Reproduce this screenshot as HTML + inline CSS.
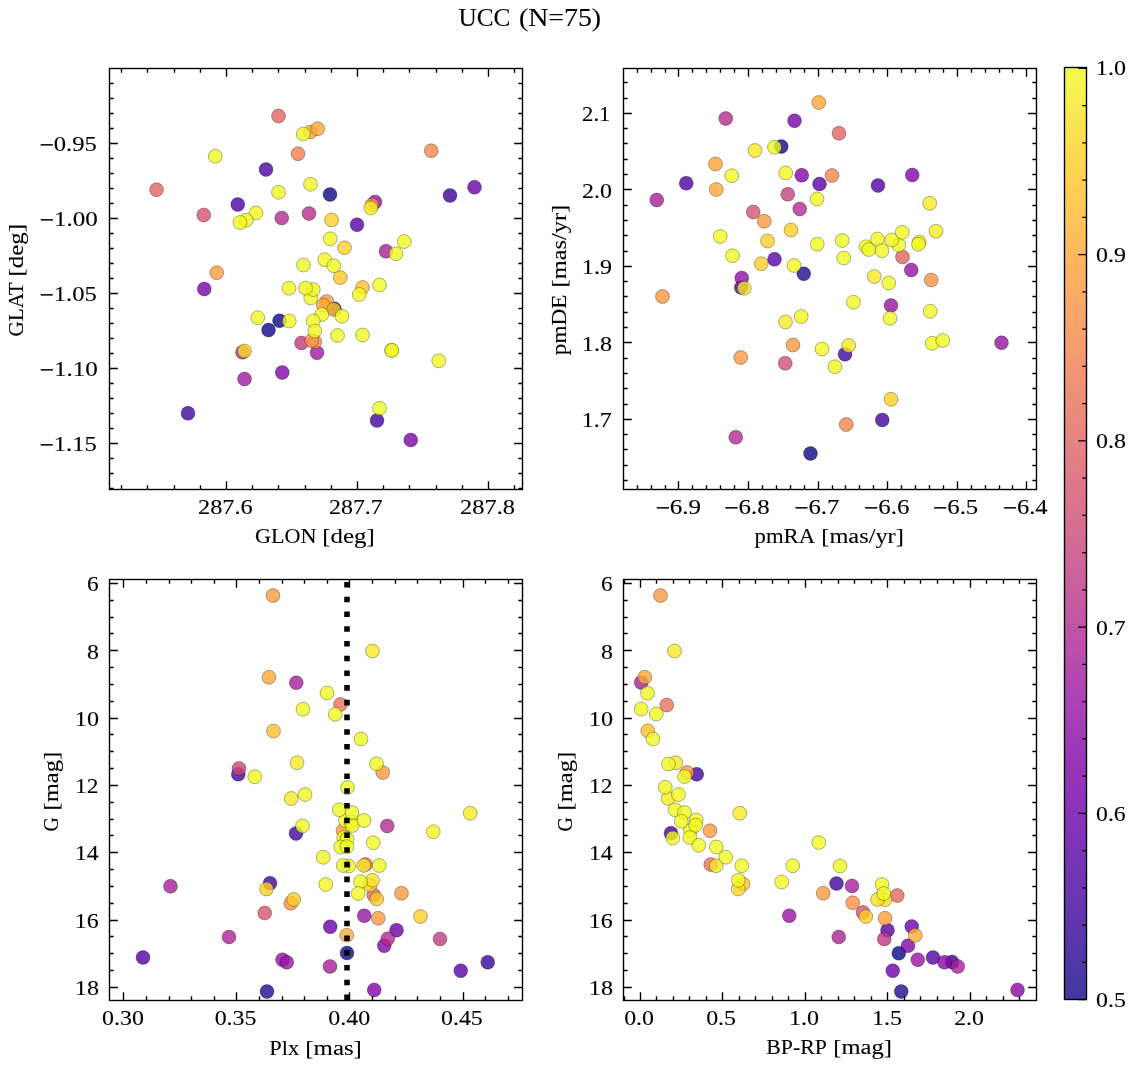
<!DOCTYPE html>
<html lang="en"><head><meta charset="utf-8"><title>UCC (N=75)</title>
<style>html,body{margin:0;padding:0;background:#fff}svg{display:block}text{font-family:"Liberation Serif",serif;fill:#000}</style></head><body>
<svg width="1136" height="1067" viewBox="0 0 1136 1067">
<rect width="1136" height="1067" fill="#fff"/>
<defs><linearGradient id="cbg" x1="0" y1="0" x2="0" y2="1"><stop offset="0%" stop-color="#f3fa4e"/><stop offset="2.5%" stop-color="#f6f252"/><stop offset="5%" stop-color="#f9e951"/><stop offset="7.5%" stop-color="#fbe050"/><stop offset="10%" stop-color="#fdd851"/><stop offset="12.5%" stop-color="#fed053"/><stop offset="15%" stop-color="#fec856"/><stop offset="17.5%" stop-color="#fec05a"/><stop offset="20%" stop-color="#fdb85e"/><stop offset="22.5%" stop-color="#fbb162"/><stop offset="25%" stop-color="#faaa66"/><stop offset="27.5%" stop-color="#f7a36b"/><stop offset="30%" stop-color="#f59d6f"/><stop offset="32.5%" stop-color="#f19574"/><stop offset="35%" stop-color="#ee9078"/><stop offset="37.5%" stop-color="#eb8a7c"/><stop offset="40%" stop-color="#e78381"/><stop offset="42.5%" stop-color="#e37d85"/><stop offset="45%" stop-color="#de778a"/><stop offset="47.5%" stop-color="#da728e"/><stop offset="50%" stop-color="#d66c93"/><stop offset="52.5%" stop-color="#d06698"/><stop offset="55%" stop-color="#cc609c"/><stop offset="57.5%" stop-color="#c65aa2"/><stop offset="60%" stop-color="#c055a6"/><stop offset="62.5%" stop-color="#bb4faa"/><stop offset="65%" stop-color="#b449af"/><stop offset="67.5%" stop-color="#ad44b3"/><stop offset="70%" stop-color="#a63eb6"/><stop offset="72.5%" stop-color="#9f39b8"/><stop offset="75%" stop-color="#9835b9"/><stop offset="77.5%" stop-color="#9034ba"/><stop offset="80%" stop-color="#8833b9"/><stop offset="82.5%" stop-color="#7f33b8"/><stop offset="85%" stop-color="#7834b6"/><stop offset="87.5%" stop-color="#7035b4"/><stop offset="90%" stop-color="#6736b1"/><stop offset="92.5%" stop-color="#5f36ad"/><stop offset="95%" stop-color="#5437a9"/><stop offset="97.5%" stop-color="#4a38a4"/><stop offset="100%" stop-color="#3d399f"/></linearGradient>
<clipPath id="cp1"><rect x="109.5" y="68.5" width="413" height="421"/></clipPath>
<clipPath id="cp2"><rect x="623.5" y="68.5" width="413" height="421"/></clipPath>
<clipPath id="cp3"><rect x="109.5" y="579.5" width="413" height="421"/></clipPath>
<clipPath id="cp4"><rect x="623.5" y="579.5" width="413" height="421"/></clipPath>
</defs>
<g id="panel1">
<g clip-path="url(#cp1)" stroke="#000" stroke-opacity="0.5" stroke-width="0.6" fill-opacity="0.8">
<circle cx="330" cy="194.5" r="6.95" fill="#0d0887"/>
<circle cx="279.5" cy="320.75" r="6.95" fill="#0d0887"/>
<circle cx="268.5" cy="330" r="6.95" fill="#0d0887"/>
<circle cx="334.4" cy="308.8" r="6.95" fill="#260591"/>
<circle cx="450" cy="195.5" r="6.95" fill="#38049a"/>
<circle cx="188" cy="413.25" r="6.95" fill="#41049d"/>
<circle cx="377" cy="420.5" r="6.95" fill="#41049d"/>
<circle cx="266" cy="169.5" r="6.95" fill="#4903a0"/>
<circle cx="237.75" cy="204.5" r="6.95" fill="#4903a0"/>
<circle cx="357" cy="224.75" r="6.95" fill="#5901a5"/>
<circle cx="474.5" cy="187.25" r="6.95" fill="#6a00a8"/>
<circle cx="204.25" cy="289" r="6.95" fill="#7a02a8"/>
<circle cx="410.75" cy="440" r="6.95" fill="#7a02a8"/>
<circle cx="282.25" cy="372.5" r="6.95" fill="#8104a7"/>
<circle cx="375" cy="202" r="6.95" fill="#9613a1"/>
<circle cx="317" cy="352.75" r="6.95" fill="#9e199d"/>
<circle cx="244.5" cy="379" r="6.95" fill="#9e199d"/>
<circle cx="386" cy="251.25" r="6.95" fill="#a51f99"/>
<circle cx="281.75" cy="218" r="6.95" fill="#b12a90"/>
<circle cx="242.5" cy="352.25" r="6.95" fill="#b12a90"/>
<circle cx="309" cy="213.5" r="6.95" fill="#b6308b"/>
<circle cx="301.5" cy="343" r="6.95" fill="#c13b82"/>
<circle cx="203.75" cy="215" r="6.95" fill="#d5536f"/>
<circle cx="278.5" cy="116" r="6.95" fill="#e16462"/>
<circle cx="156.5" cy="189.75" r="6.95" fill="#e16462"/>
<circle cx="298" cy="153.75" r="6.95" fill="#ef7e50"/>
<circle cx="431.25" cy="150.75" r="6.95" fill="#f2844b"/>
<circle cx="315" cy="341.8" r="6.95" fill="#f79044"/>
<circle cx="311.7" cy="340.5" r="6.95" fill="#f79342"/>
<circle cx="372" cy="205" r="6.95" fill="#f9983e"/>
<circle cx="216.75" cy="272.75" r="6.95" fill="#f9983e"/>
<circle cx="326.75" cy="301.5" r="6.95" fill="#f9983e"/>
<circle cx="310.5" cy="132" r="6.95" fill="#fca338"/>
<circle cx="317.75" cy="128.75" r="6.95" fill="#fca636"/>
<circle cx="323.25" cy="305" r="6.95" fill="#fca636"/>
<circle cx="362.5" cy="287.5" r="6.95" fill="#febe2a"/>
<circle cx="340.25" cy="277.5" r="6.95" fill="#fdc627"/>
<circle cx="333.75" cy="309.5" r="6.95" fill="#fdc627"/>
<circle cx="331.5" cy="220" r="6.95" fill="#fcce25"/>
<circle cx="344.5" cy="247.75" r="6.95" fill="#fcce25"/>
<circle cx="244.5" cy="351" r="6.95" fill="#fbd724"/>
<circle cx="370.75" cy="208" r="6.95" fill="#f3f027"/>
<circle cx="310.75" cy="298" r="6.95" fill="#f0f921"/>
<circle cx="313.25" cy="289.5" r="6.95" fill="#f0f921"/>
<circle cx="305.5" cy="288" r="6.95" fill="#f0f921"/>
<circle cx="303.25" cy="134" r="6.95" fill="#f0f921"/>
<circle cx="215.25" cy="156.25" r="6.95" fill="#f0f921"/>
<circle cx="310.5" cy="184.25" r="6.95" fill="#f0f921"/>
<circle cx="278.5" cy="192.25" r="6.95" fill="#f0f921"/>
<circle cx="256" cy="213" r="6.95" fill="#f0f921"/>
<circle cx="246.25" cy="220.25" r="6.95" fill="#f0f921"/>
<circle cx="240" cy="222.5" r="6.95" fill="#f0f921"/>
<circle cx="330.25" cy="238.75" r="6.95" fill="#f0f921"/>
<circle cx="324.75" cy="259.75" r="6.95" fill="#f0f921"/>
<circle cx="303.5" cy="265" r="6.95" fill="#f0f921"/>
<circle cx="333.75" cy="265.75" r="6.95" fill="#f0f921"/>
<circle cx="289" cy="288.25" r="6.95" fill="#f0f921"/>
<circle cx="359.25" cy="294.5" r="6.95" fill="#f0f921"/>
<circle cx="379.5" cy="285" r="6.95" fill="#f0f921"/>
<circle cx="396" cy="253.75" r="6.95" fill="#f0f921"/>
<circle cx="404.25" cy="241.5" r="6.95" fill="#f0f921"/>
<circle cx="321.75" cy="314.5" r="6.95" fill="#f0f921"/>
<circle cx="342" cy="316.25" r="6.95" fill="#f0f921"/>
<circle cx="257.75" cy="317.75" r="6.95" fill="#f0f921"/>
<circle cx="289.25" cy="321" r="6.95" fill="#f0f921"/>
<circle cx="313.25" cy="321" r="6.95" fill="#f0f921"/>
<circle cx="314.75" cy="331" r="6.95" fill="#f0f921"/>
<circle cx="337.5" cy="335.5" r="6.95" fill="#f0f921"/>
<circle cx="362.5" cy="335" r="6.95" fill="#f0f921"/>
<circle cx="379.5" cy="408.25" r="6.95" fill="#f0f921"/>
<circle cx="391.6" cy="350.2" r="6.95" fill="#f0f921"/>
<circle cx="391.9" cy="350.5" r="6.95" fill="#f0f921"/>
<circle cx="438.75" cy="360.75" r="6.95" fill="#f0f921"/>
</g>
<path d="M121.5 489.5v-4.17M121.5 68.5v4.17M147.5 489.5v-4.17M147.5 68.5v4.17M174.5 489.5v-4.17M174.5 68.5v4.17M200.5 489.5v-4.17M200.5 68.5v4.17M226.5 489.5v-8.33M226.5 68.5v8.33M252.5 489.5v-4.17M252.5 68.5v4.17M278.5 489.5v-4.17M278.5 68.5v4.17M305.5 489.5v-4.17M305.5 68.5v4.17M331.5 489.5v-4.17M331.5 68.5v4.17M357.5 489.5v-8.33M357.5 68.5v8.33M383.5 489.5v-4.17M383.5 68.5v4.17M409.5 489.5v-4.17M409.5 68.5v4.17M436.5 489.5v-4.17M436.5 68.5v4.17M462.5 489.5v-4.17M462.5 68.5v4.17M488.5 489.5v-8.33M488.5 68.5v8.33M514.5 489.5v-4.17M514.5 68.5v4.17M109.5 83.5h4.17M522.5 83.5h-4.17M109.5 98.5h4.17M522.5 98.5h-4.17M109.5 113.5h4.17M522.5 113.5h-4.17M109.5 128.5h4.17M522.5 128.5h-4.17M109.5 143.5h8.33M522.5 143.5h-8.33M109.5 158.5h4.17M522.5 158.5h-4.17M109.5 173.5h4.17M522.5 173.5h-4.17M109.5 188.5h4.17M522.5 188.5h-4.17M109.5 203.5h4.17M522.5 203.5h-4.17M109.5 218.5h8.33M522.5 218.5h-8.33M109.5 233.5h4.17M522.5 233.5h-4.17M109.5 248.5h4.17M522.5 248.5h-4.17M109.5 263.5h4.17M522.5 263.5h-4.17M109.5 278.5h4.17M522.5 278.5h-4.17M109.5 293.5h8.33M522.5 293.5h-8.33M109.5 308.5h4.17M522.5 308.5h-4.17M109.5 323.5h4.17M522.5 323.5h-4.17M109.5 338.5h4.17M522.5 338.5h-4.17M109.5 353.5h4.17M522.5 353.5h-4.17M109.5 368.5h8.33M522.5 368.5h-8.33M109.5 383.5h4.17M522.5 383.5h-4.17M109.5 398.5h4.17M522.5 398.5h-4.17M109.5 413.5h4.17M522.5 413.5h-4.17M109.5 428.5h4.17M522.5 428.5h-4.17M109.5 443.5h8.33M522.5 443.5h-8.33M109.5 458.5h4.17M522.5 458.5h-4.17M109.5 473.5h4.17M522.5 473.5h-4.17M109.5 488.5h4.17M522.5 488.5h-4.17" stroke="#000" stroke-width="1.39" fill="none"/>
<rect x="109.5" y="68.5" width="413" height="421" fill="none" stroke="#000" stroke-width="1.39"/>
</g>
<g id="panel2">
<g clip-path="url(#cp2)" stroke="#000" stroke-opacity="0.5" stroke-width="0.6" fill-opacity="0.8">
<circle cx="781.25" cy="146.5" r="6.95" fill="#0d0887"/>
<circle cx="810.5" cy="453.5" r="6.95" fill="#0d0887"/>
<circle cx="803.75" cy="273.75" r="6.95" fill="#260591"/>
<circle cx="741.25" cy="287.5" r="6.95" fill="#41049d"/>
<circle cx="845" cy="354.25" r="6.95" fill="#41049d"/>
<circle cx="882.25" cy="420" r="6.95" fill="#41049d"/>
<circle cx="686.25" cy="183.25" r="6.95" fill="#4903a0"/>
<circle cx="878" cy="185.5" r="6.95" fill="#5102a3"/>
<circle cx="819.5" cy="184" r="6.95" fill="#5901a5"/>
<circle cx="774.5" cy="259.25" r="6.95" fill="#5901a5"/>
<circle cx="794.5" cy="120.75" r="6.95" fill="#7a02a8"/>
<circle cx="801.75" cy="175.25" r="6.95" fill="#8104a7"/>
<circle cx="912.25" cy="175" r="6.95" fill="#8104a7"/>
<circle cx="741.75" cy="278" r="6.95" fill="#8f0da4"/>
<circle cx="891" cy="305.5" r="6.95" fill="#9613a1"/>
<circle cx="911.25" cy="270" r="6.95" fill="#9613a1"/>
<circle cx="1001.5" cy="342.75" r="6.95" fill="#9613a1"/>
<circle cx="656.75" cy="200" r="6.95" fill="#a51f99"/>
<circle cx="725.75" cy="118.5" r="6.95" fill="#b12a90"/>
<circle cx="799.75" cy="209" r="6.95" fill="#b12a90"/>
<circle cx="735.75" cy="437.25" r="6.95" fill="#b12a90"/>
<circle cx="787.75" cy="194.25" r="6.95" fill="#c6417d"/>
<circle cx="785.25" cy="363.25" r="6.95" fill="#d04d73"/>
<circle cx="753.25" cy="212" r="6.95" fill="#d5536f"/>
<circle cx="839" cy="133.25" r="6.95" fill="#e16462"/>
<circle cx="902.5" cy="257" r="6.95" fill="#e16462"/>
<circle cx="832" cy="175.5" r="6.95" fill="#f2844b"/>
<circle cx="846.25" cy="424.5" r="6.95" fill="#f2844b"/>
<circle cx="931.25" cy="280" r="6.95" fill="#f79143"/>
<circle cx="764.25" cy="221.25" r="6.95" fill="#f9983e"/>
<circle cx="662.5" cy="296.5" r="6.95" fill="#f9983e"/>
<circle cx="793" cy="345" r="6.95" fill="#f9983e"/>
<circle cx="740.75" cy="357.5" r="6.95" fill="#f9983e"/>
<circle cx="818.75" cy="102.5" r="6.95" fill="#fca636"/>
<circle cx="715.5" cy="164" r="6.95" fill="#fca636"/>
<circle cx="716.25" cy="189.5" r="6.95" fill="#fca636"/>
<circle cx="791" cy="230" r="6.95" fill="#fcce25"/>
<circle cx="767.5" cy="241" r="6.95" fill="#fcce25"/>
<circle cx="761.25" cy="263.75" r="6.95" fill="#fcce25"/>
<circle cx="891" cy="399.25" r="6.95" fill="#fcce25"/>
<circle cx="755" cy="150.5" r="6.95" fill="#f6e826"/>
<circle cx="744.25" cy="288.25" r="6.95" fill="#f6e826"/>
<circle cx="874.25" cy="276.5" r="6.95" fill="#f6e826"/>
<circle cx="785.5" cy="322" r="6.95" fill="#f6e826"/>
<circle cx="929.75" cy="203.25" r="6.95" fill="#f6e826"/>
<circle cx="936" cy="231.25" r="6.95" fill="#f6e826"/>
<circle cx="919.25" cy="242" r="6.95" fill="#f6e826"/>
<circle cx="848.75" cy="345.5" r="6.95" fill="#f6e826"/>
<circle cx="898.75" cy="245" r="6.95" fill="#f0f921"/>
<circle cx="774.5" cy="147.25" r="6.95" fill="#f0f921"/>
<circle cx="731.75" cy="175.75" r="6.95" fill="#f0f921"/>
<circle cx="785.75" cy="173" r="6.95" fill="#f0f921"/>
<circle cx="817" cy="199" r="6.95" fill="#f0f921"/>
<circle cx="720.25" cy="236.5" r="6.95" fill="#f0f921"/>
<circle cx="817.25" cy="244.25" r="6.95" fill="#f0f921"/>
<circle cx="842.25" cy="240.5" r="6.95" fill="#f0f921"/>
<circle cx="732.5" cy="255.75" r="6.95" fill="#f0f921"/>
<circle cx="843.75" cy="258" r="6.95" fill="#f0f921"/>
<circle cx="794" cy="265.5" r="6.95" fill="#f0f921"/>
<circle cx="866" cy="246.75" r="6.95" fill="#f0f921"/>
<circle cx="868.75" cy="249.5" r="6.95" fill="#f0f921"/>
<circle cx="877.5" cy="239" r="6.95" fill="#f0f921"/>
<circle cx="882" cy="250.75" r="6.95" fill="#f0f921"/>
<circle cx="891.75" cy="240" r="6.95" fill="#f0f921"/>
<circle cx="902.25" cy="232.25" r="6.95" fill="#f0f921"/>
<circle cx="888.75" cy="283" r="6.95" fill="#f0f921"/>
<circle cx="853.5" cy="302.25" r="6.95" fill="#f0f921"/>
<circle cx="890" cy="318.25" r="6.95" fill="#f0f921"/>
<circle cx="801.25" cy="316.5" r="6.95" fill="#f0f921"/>
<circle cx="918.5" cy="244.25" r="6.95" fill="#f0f921"/>
<circle cx="930.25" cy="311.25" r="6.95" fill="#f0f921"/>
<circle cx="822" cy="349" r="6.95" fill="#f0f921"/>
<circle cx="835" cy="366.75" r="6.95" fill="#f0f921"/>
<circle cx="932.25" cy="343.25" r="6.95" fill="#f0f921"/>
<circle cx="942.75" cy="340.5" r="6.95" fill="#f0f921"/>
</g>
<path d="M637.5 489.5v-4.17M637.5 68.5v4.17M651.5 489.5v-4.17M651.5 68.5v4.17M665.5 489.5v-4.17M665.5 68.5v4.17M678.5 489.5v-8.33M678.5 68.5v8.33M692.5 489.5v-4.17M692.5 68.5v4.17M706.5 489.5v-4.17M706.5 68.5v4.17M720.5 489.5v-4.17M720.5 68.5v4.17M734.5 489.5v-4.17M734.5 68.5v4.17M748.5 489.5v-8.33M748.5 68.5v8.33M762.5 489.5v-4.17M762.5 68.5v4.17M776.5 489.5v-4.17M776.5 68.5v4.17M790.5 489.5v-4.17M790.5 68.5v4.17M804.5 489.5v-4.17M804.5 68.5v4.17M818.5 489.5v-8.33M818.5 68.5v8.33M832.5 489.5v-4.17M832.5 68.5v4.17M845.5 489.5v-4.17M845.5 68.5v4.17M859.5 489.5v-4.17M859.5 68.5v4.17M873.5 489.5v-4.17M873.5 68.5v4.17M887.5 489.5v-8.33M887.5 68.5v8.33M901.5 489.5v-4.17M901.5 68.5v4.17M915.5 489.5v-4.17M915.5 68.5v4.17M929.5 489.5v-4.17M929.5 68.5v4.17M943.5 489.5v-4.17M943.5 68.5v4.17M957.5 489.5v-8.33M957.5 68.5v8.33M971.5 489.5v-4.17M971.5 68.5v4.17M985.5 489.5v-4.17M985.5 68.5v4.17M999.5 489.5v-4.17M999.5 68.5v4.17M1012.5 489.5v-4.17M1012.5 68.5v4.17M1026.5 489.5v-8.33M1026.5 68.5v8.33M623.5 82.5h4.17M1036.5 82.5h-4.17M623.5 98.5h4.17M1036.5 98.5h-4.17M623.5 113.5h8.33M1036.5 113.5h-8.33M623.5 128.5h4.17M1036.5 128.5h-4.17M623.5 143.5h4.17M1036.5 143.5h-4.17M623.5 159.5h4.17M1036.5 159.5h-4.17M623.5 174.5h4.17M1036.5 174.5h-4.17M623.5 189.5h8.33M1036.5 189.5h-8.33M623.5 205.5h4.17M1036.5 205.5h-4.17M623.5 220.5h4.17M1036.5 220.5h-4.17M623.5 235.5h4.17M1036.5 235.5h-4.17M623.5 251.5h4.17M1036.5 251.5h-4.17M623.5 266.5h8.33M1036.5 266.5h-8.33M623.5 281.5h4.17M1036.5 281.5h-4.17M623.5 296.5h4.17M1036.5 296.5h-4.17M623.5 312.5h4.17M1036.5 312.5h-4.17M623.5 327.5h4.17M1036.5 327.5h-4.17M623.5 342.5h8.33M1036.5 342.5h-8.33M623.5 358.5h4.17M1036.5 358.5h-4.17M623.5 373.5h4.17M1036.5 373.5h-4.17M623.5 388.5h4.17M1036.5 388.5h-4.17M623.5 404.5h4.17M1036.5 404.5h-4.17M623.5 419.5h8.33M1036.5 419.5h-8.33M623.5 434.5h4.17M1036.5 434.5h-4.17M623.5 449.5h4.17M1036.5 449.5h-4.17M623.5 465.5h4.17M1036.5 465.5h-4.17M623.5 480.5h4.17M1036.5 480.5h-4.17" stroke="#000" stroke-width="1.39" fill="none"/>
<rect x="623.5" y="68.5" width="413" height="421" fill="none" stroke="#000" stroke-width="1.39"/>
</g>
<g id="panel3">
<g clip-path="url(#cp3)" stroke="#000" stroke-opacity="0.5" stroke-width="0.6" fill-opacity="0.8">
<circle cx="347" cy="953" r="6.95" fill="#0d0887"/>
<circle cx="267" cy="991.5" r="6.95" fill="#260591"/>
<circle cx="487.75" cy="962.25" r="6.95" fill="#38049a"/>
<circle cx="238.25" cy="774.25" r="6.95" fill="#41049d"/>
<circle cx="296" cy="833.5" r="6.95" fill="#41049d"/>
<circle cx="270" cy="883.25" r="6.95" fill="#41049d"/>
<circle cx="143" cy="957.5" r="6.95" fill="#5102a3"/>
<circle cx="460.75" cy="970.75" r="6.95" fill="#5901a5"/>
<circle cx="330.25" cy="926.75" r="6.95" fill="#6a00a8"/>
<circle cx="396.5" cy="930.25" r="6.95" fill="#6a00a8"/>
<circle cx="374.25" cy="990" r="6.95" fill="#8104a7"/>
<circle cx="384.25" cy="945.75" r="6.95" fill="#8104a7"/>
<circle cx="364.25" cy="915.75" r="6.95" fill="#9613a1"/>
<circle cx="282.5" cy="959.75" r="6.95" fill="#9613a1"/>
<circle cx="286.75" cy="962.25" r="6.95" fill="#9613a1"/>
<circle cx="296.25" cy="682.75" r="6.95" fill="#a51f99"/>
<circle cx="170.5" cy="886.25" r="6.95" fill="#a51f99"/>
<circle cx="330" cy="966.5" r="6.95" fill="#a51f99"/>
<circle cx="229" cy="937" r="6.95" fill="#ab2494"/>
<circle cx="387.25" cy="826" r="6.95" fill="#b12a90"/>
<circle cx="387.75" cy="938.75" r="6.95" fill="#b12a90"/>
<circle cx="440" cy="939" r="6.95" fill="#c13b82"/>
<circle cx="239" cy="768.5" r="6.95" fill="#cc4778"/>
<circle cx="264.75" cy="913" r="6.95" fill="#d5536f"/>
<circle cx="373.75" cy="895" r="6.95" fill="#e3685f"/>
<circle cx="340.5" cy="704.5" r="6.95" fill="#e87059"/>
<circle cx="365.5" cy="864.5" r="6.95" fill="#e87059"/>
<circle cx="290.75" cy="903.25" r="6.95" fill="#f79143"/>
<circle cx="273" cy="595.5" r="6.95" fill="#f9983e"/>
<circle cx="382.75" cy="772.5" r="6.95" fill="#f9983e"/>
<circle cx="343" cy="830.6" r="6.95" fill="#f9983e"/>
<circle cx="378.25" cy="918.25" r="6.95" fill="#f9983e"/>
<circle cx="401.5" cy="893.25" r="6.95" fill="#f9983e"/>
<circle cx="269" cy="677.25" r="6.95" fill="#fca636"/>
<circle cx="346.75" cy="935.25" r="6.95" fill="#fdab33"/>
<circle cx="273.5" cy="731" r="6.95" fill="#febe2a"/>
<circle cx="376.75" cy="899" r="6.95" fill="#fdc627"/>
<circle cx="293.75" cy="899.5" r="6.95" fill="#fdca26"/>
<circle cx="370" cy="885" r="6.95" fill="#fcce25"/>
<circle cx="266.5" cy="889" r="6.95" fill="#fcce25"/>
<circle cx="420.5" cy="916.5" r="6.95" fill="#fcce25"/>
<circle cx="363.75" cy="865.5" r="6.95" fill="#f7e425"/>
<circle cx="372.5" cy="880.25" r="6.95" fill="#f7e425"/>
<circle cx="372.5" cy="651" r="6.95" fill="#f6e826"/>
<circle cx="297" cy="762.75" r="6.95" fill="#f6e826"/>
<circle cx="291.25" cy="798.5" r="6.95" fill="#f6e826"/>
<circle cx="470.25" cy="813.25" r="6.95" fill="#f6e826"/>
<circle cx="348.75" cy="866" r="6.95" fill="#f0f921"/>
<circle cx="345.5" cy="820.7" r="6.95" fill="#f0f921"/>
<circle cx="351.1" cy="821.4" r="6.95" fill="#f0f921"/>
<circle cx="352.2" cy="825.5" r="6.95" fill="#f0f921"/>
<circle cx="327" cy="693" r="6.95" fill="#f0f921"/>
<circle cx="303" cy="709.25" r="6.95" fill="#f0f921"/>
<circle cx="335.25" cy="714.25" r="6.95" fill="#f0f921"/>
<circle cx="361" cy="739" r="6.95" fill="#f0f921"/>
<circle cx="376.5" cy="763.75" r="6.95" fill="#f0f921"/>
<circle cx="254.75" cy="776.75" r="6.95" fill="#f0f921"/>
<circle cx="347.5" cy="787.5" r="6.95" fill="#f0f921"/>
<circle cx="305" cy="794.5" r="6.95" fill="#f0f921"/>
<circle cx="339.25" cy="809.75" r="6.95" fill="#f0f921"/>
<circle cx="352" cy="812.5" r="6.95" fill="#f0f921"/>
<circle cx="364" cy="820.5" r="6.95" fill="#f0f921"/>
<circle cx="302.5" cy="826" r="6.95" fill="#f0f921"/>
<circle cx="433.25" cy="831.75" r="6.95" fill="#f0f921"/>
<circle cx="343.75" cy="837.5" r="6.95" fill="#f0f921"/>
<circle cx="347" cy="839" r="6.95" fill="#f0f921"/>
<circle cx="340.75" cy="847" r="6.95" fill="#f0f921"/>
<circle cx="347" cy="846.7" r="6.95" fill="#f0f921"/>
<circle cx="373.25" cy="842.75" r="6.95" fill="#f0f921"/>
<circle cx="323.25" cy="857.25" r="6.95" fill="#f0f921"/>
<circle cx="343.25" cy="865.5" r="6.95" fill="#f0f921"/>
<circle cx="379.25" cy="865.5" r="6.95" fill="#f0f921"/>
<circle cx="325.75" cy="884.5" r="6.95" fill="#f0f921"/>
<circle cx="360.5" cy="881.5" r="6.95" fill="#f0f921"/>
<circle cx="358.25" cy="893.5" r="6.95" fill="#f0f921"/>
</g>
<path clip-path="url(#cp3)" d="M347 1000V579.5" stroke="#000" stroke-width="5.56" stroke-dasharray="5.56 9.17" fill="none"/>
<path d="M123.5 1000.5v-8.33M123.5 579.5v8.33M146.5 1000.5v-4.17M146.5 579.5v4.17M169.5 1000.5v-4.17M169.5 579.5v4.17M191.5 1000.5v-4.17M191.5 579.5v4.17M214.5 1000.5v-4.17M214.5 579.5v4.17M236.5 1000.5v-8.33M236.5 579.5v8.33M259.5 1000.5v-4.17M259.5 579.5v4.17M282.5 1000.5v-4.17M282.5 579.5v4.17M304.5 1000.5v-4.17M304.5 579.5v4.17M327.5 1000.5v-4.17M327.5 579.5v4.17M349.5 1000.5v-8.33M349.5 579.5v8.33M372.5 1000.5v-4.17M372.5 579.5v4.17M395.5 1000.5v-4.17M395.5 579.5v4.17M417.5 1000.5v-4.17M417.5 579.5v4.17M440.5 1000.5v-4.17M440.5 579.5v4.17M463.5 1000.5v-8.33M463.5 579.5v8.33M485.5 1000.5v-4.17M485.5 579.5v4.17M508.5 1000.5v-4.17M508.5 579.5v4.17M109.5 583.5h8.33M522.5 583.5h-8.33M109.5 600.5h4.17M522.5 600.5h-4.17M109.5 617.5h4.17M522.5 617.5h-4.17M109.5 633.5h4.17M522.5 633.5h-4.17M109.5 650.5h8.33M522.5 650.5h-8.33M109.5 667.5h4.17M522.5 667.5h-4.17M109.5 684.5h4.17M522.5 684.5h-4.17M109.5 701.5h4.17M522.5 701.5h-4.17M109.5 718.5h8.33M522.5 718.5h-8.33M109.5 734.5h4.17M522.5 734.5h-4.17M109.5 751.5h4.17M522.5 751.5h-4.17M109.5 768.5h4.17M522.5 768.5h-4.17M109.5 785.5h8.33M522.5 785.5h-8.33M109.5 802.5h4.17M522.5 802.5h-4.17M109.5 819.5h4.17M522.5 819.5h-4.17M109.5 835.5h4.17M522.5 835.5h-4.17M109.5 852.5h8.33M522.5 852.5h-8.33M109.5 869.5h4.17M522.5 869.5h-4.17M109.5 886.5h4.17M522.5 886.5h-4.17M109.5 903.5h4.17M522.5 903.5h-4.17M109.5 920.5h8.33M522.5 920.5h-8.33M109.5 936.5h4.17M522.5 936.5h-4.17M109.5 953.5h4.17M522.5 953.5h-4.17M109.5 970.5h4.17M522.5 970.5h-4.17M109.5 987.5h8.33M522.5 987.5h-8.33" stroke="#000" stroke-width="1.39" fill="none"/>
<rect x="109.5" y="579.5" width="413" height="421" fill="none" stroke="#000" stroke-width="1.39"/>
</g>
<g id="panel4">
<g clip-path="url(#cp4)" stroke="#000" stroke-opacity="0.5" stroke-width="0.6" fill-opacity="0.8">
<circle cx="898.75" cy="953.25" r="6.95" fill="#0d0887"/>
<circle cx="901.25" cy="991.5" r="6.95" fill="#260591"/>
<circle cx="952" cy="962" r="6.95" fill="#38049a"/>
<circle cx="696.75" cy="774.25" r="6.95" fill="#41049d"/>
<circle cx="671" cy="833.25" r="6.95" fill="#41049d"/>
<circle cx="836.5" cy="883.5" r="6.95" fill="#41049d"/>
<circle cx="887.5" cy="930.25" r="6.95" fill="#5102a3"/>
<circle cx="933" cy="957.5" r="6.95" fill="#5102a3"/>
<circle cx="911.75" cy="926.5" r="6.95" fill="#6a00a8"/>
<circle cx="892.75" cy="970.75" r="6.95" fill="#6a00a8"/>
<circle cx="908" cy="945.75" r="6.95" fill="#8104a7"/>
<circle cx="944.5" cy="962.25" r="6.95" fill="#8808a6"/>
<circle cx="1017.5" cy="990" r="6.95" fill="#8808a6"/>
<circle cx="789.25" cy="915.75" r="6.95" fill="#9613a1"/>
<circle cx="917.75" cy="959.75" r="6.95" fill="#9613a1"/>
<circle cx="641.25" cy="682.5" r="6.95" fill="#a51f99"/>
<circle cx="852" cy="886" r="6.95" fill="#a51f99"/>
<circle cx="957.75" cy="966.5" r="6.95" fill="#a51f99"/>
<circle cx="838.75" cy="937" r="6.95" fill="#ab2494"/>
<circle cx="884.25" cy="939" r="6.95" fill="#bc3587"/>
<circle cx="863" cy="912.5" r="6.95" fill="#d5536f"/>
<circle cx="897.25" cy="895.5" r="6.95" fill="#e3685f"/>
<circle cx="666.75" cy="705" r="6.95" fill="#e87059"/>
<circle cx="710.75" cy="864.5" r="6.95" fill="#e87059"/>
<circle cx="852.75" cy="902.75" r="6.95" fill="#f79143"/>
<circle cx="660.5" cy="595.5" r="6.95" fill="#f9983e"/>
<circle cx="687" cy="772.5" r="6.95" fill="#f9983e"/>
<circle cx="710" cy="830.75" r="6.95" fill="#f9983e"/>
<circle cx="823.25" cy="893.25" r="6.95" fill="#f9983e"/>
<circle cx="885" cy="918.25" r="6.95" fill="#fb9f3a"/>
<circle cx="644.75" cy="677.25" r="6.95" fill="#fca636"/>
<circle cx="915.25" cy="935.25" r="6.95" fill="#fdab33"/>
<circle cx="647.75" cy="730.75" r="6.95" fill="#febe2a"/>
<circle cx="743" cy="884" r="6.95" fill="#febe2a"/>
<circle cx="865.75" cy="916.5" r="6.95" fill="#fcce25"/>
<circle cx="738.25" cy="889" r="6.95" fill="#fbd724"/>
<circle cx="885" cy="899.75" r="6.95" fill="#f9dc24"/>
<circle cx="877.5" cy="899.5" r="6.95" fill="#f8df25"/>
<circle cx="674.5" cy="651" r="6.95" fill="#f6e826"/>
<circle cx="675.75" cy="762.75" r="6.95" fill="#f6e826"/>
<circle cx="668" cy="798.5" r="6.95" fill="#f6e826"/>
<circle cx="739.75" cy="813.25" r="6.95" fill="#f6e826"/>
<circle cx="716.25" cy="865.75" r="6.95" fill="#f6e826"/>
<circle cx="690.5" cy="830.5" r="6.95" fill="#f0f921"/>
<circle cx="647.5" cy="693.25" r="6.95" fill="#f0f921"/>
<circle cx="641.25" cy="709" r="6.95" fill="#f0f921"/>
<circle cx="656.25" cy="714" r="6.95" fill="#f0f921"/>
<circle cx="653" cy="739" r="6.95" fill="#f0f921"/>
<circle cx="668.5" cy="764" r="6.95" fill="#f0f921"/>
<circle cx="684.5" cy="776.5" r="6.95" fill="#f0f921"/>
<circle cx="665.25" cy="787.25" r="6.95" fill="#f0f921"/>
<circle cx="678.5" cy="794.5" r="6.95" fill="#f0f921"/>
<circle cx="675" cy="809.75" r="6.95" fill="#f0f921"/>
<circle cx="684.5" cy="812.5" r="6.95" fill="#f0f921"/>
<circle cx="681.25" cy="821.25" r="6.95" fill="#f0f921"/>
<circle cx="696.25" cy="820" r="6.95" fill="#f0f921"/>
<circle cx="695.5" cy="825.25" r="6.95" fill="#f0f921"/>
<circle cx="672.75" cy="838" r="6.95" fill="#f0f921"/>
<circle cx="689.75" cy="837.5" r="6.95" fill="#f0f921"/>
<circle cx="698.75" cy="845.25" r="6.95" fill="#f0f921"/>
<circle cx="716.25" cy="847" r="6.95" fill="#f0f921"/>
<circle cx="818.75" cy="842.5" r="6.95" fill="#f0f921"/>
<circle cx="725.75" cy="857.25" r="6.95" fill="#f0f921"/>
<circle cx="741.75" cy="865.75" r="6.95" fill="#f0f921"/>
<circle cx="792.75" cy="865.75" r="6.95" fill="#f0f921"/>
<circle cx="840" cy="866" r="6.95" fill="#f0f921"/>
<circle cx="738.25" cy="880.25" r="6.95" fill="#f0f921"/>
<circle cx="781.75" cy="882" r="6.95" fill="#f0f921"/>
<circle cx="882" cy="884.5" r="6.95" fill="#f0f921"/>
<circle cx="883.75" cy="893.5" r="6.95" fill="#f0f921"/>
</g>
<path d="M624.5 1000.5v-4.17M624.5 579.5v4.17M640.5 1000.5v-8.33M640.5 579.5v8.33M656.5 1000.5v-4.17M656.5 579.5v4.17M673.5 1000.5v-4.17M673.5 579.5v4.17M689.5 1000.5v-4.17M689.5 579.5v4.17M706.5 1000.5v-4.17M706.5 579.5v4.17M722.5 1000.5v-8.33M722.5 579.5v8.33M739.5 1000.5v-4.17M739.5 579.5v4.17M755.5 1000.5v-4.17M755.5 579.5v4.17M772.5 1000.5v-4.17M772.5 579.5v4.17M788.5 1000.5v-4.17M788.5 579.5v4.17M805.5 1000.5v-8.33M805.5 579.5v8.33M821.5 1000.5v-4.17M821.5 579.5v4.17M838.5 1000.5v-4.17M838.5 579.5v4.17M854.5 1000.5v-4.17M854.5 579.5v4.17M871.5 1000.5v-4.17M871.5 579.5v4.17M887.5 1000.5v-8.33M887.5 579.5v8.33M904.5 1000.5v-4.17M904.5 579.5v4.17M920.5 1000.5v-4.17M920.5 579.5v4.17M937.5 1000.5v-4.17M937.5 579.5v4.17M953.5 1000.5v-4.17M953.5 579.5v4.17M970.5 1000.5v-8.33M970.5 579.5v8.33M986.5 1000.5v-4.17M986.5 579.5v4.17M1003.5 1000.5v-4.17M1003.5 579.5v4.17M1019.5 1000.5v-4.17M1019.5 579.5v4.17M623.5 583.5h8.33M1036.5 583.5h-8.33M623.5 600.5h4.17M1036.5 600.5h-4.17M623.5 617.5h4.17M1036.5 617.5h-4.17M623.5 633.5h4.17M1036.5 633.5h-4.17M623.5 650.5h8.33M1036.5 650.5h-8.33M623.5 667.5h4.17M1036.5 667.5h-4.17M623.5 684.5h4.17M1036.5 684.5h-4.17M623.5 701.5h4.17M1036.5 701.5h-4.17M623.5 718.5h8.33M1036.5 718.5h-8.33M623.5 734.5h4.17M1036.5 734.5h-4.17M623.5 751.5h4.17M1036.5 751.5h-4.17M623.5 768.5h4.17M1036.5 768.5h-4.17M623.5 785.5h8.33M1036.5 785.5h-8.33M623.5 802.5h4.17M1036.5 802.5h-4.17M623.5 819.5h4.17M1036.5 819.5h-4.17M623.5 835.5h4.17M1036.5 835.5h-4.17M623.5 852.5h8.33M1036.5 852.5h-8.33M623.5 869.5h4.17M1036.5 869.5h-4.17M623.5 886.5h4.17M1036.5 886.5h-4.17M623.5 903.5h4.17M1036.5 903.5h-4.17M623.5 920.5h8.33M1036.5 920.5h-8.33M623.5 936.5h4.17M1036.5 936.5h-4.17M623.5 953.5h4.17M1036.5 953.5h-4.17M623.5 970.5h4.17M1036.5 970.5h-4.17M623.5 987.5h8.33M1036.5 987.5h-8.33" stroke="#000" stroke-width="1.39" fill="none"/>
<rect x="623.5" y="579.5" width="413" height="421" fill="none" stroke="#000" stroke-width="1.39"/>
</g>
<g id="colorbar">
<rect x="1064.5" y="67.5" width="22.0" height="932.0" fill="url(#cbg)"/>
<path d="M1086.5 999.6h-8.33M1086.5 962.35h-4.17M1086.5 925.1h-4.17M1086.5 887.85h-4.17M1086.5 850.6h-4.17M1086.5 813.35h-8.33M1086.5 776.1h-4.17M1086.5 738.85h-4.17M1086.5 701.6h-4.17M1086.5 664.35h-4.17M1086.5 627.1h-8.33M1086.5 589.85h-4.17M1086.5 552.6h-4.17M1086.5 515.35h-4.17M1086.5 478.1h-4.17M1086.5 440.85h-8.33M1086.5 403.6h-4.17M1086.5 366.35h-4.17M1086.5 329.1h-4.17M1086.5 291.85h-4.17M1086.5 254.6h-8.33M1086.5 217.35h-4.17M1086.5 180.1h-4.17M1086.5 142.85h-4.17M1086.5 105.6h-4.17M1086.5 68.35h-8.33" stroke="#000" stroke-width="1.39" fill="none"/>
<rect x="1064.5" y="67.5" width="22.0" height="932.0" fill="none" stroke="#000" stroke-width="1.39"/>
</g>
<g id="labels" stroke="#000" stroke-width="0.12" opacity="0.999">
<text transform="translate(198.03 514.1) scale(1.1414 1)" font-size="21.3">287.6</text>
<text transform="translate(329.05 514.1) scale(1.1199 1)" font-size="21.3">287.7</text>
<text transform="translate(460.02 514.1) scale(1.1467 1)" font-size="21.3">287.8</text>
<text transform="translate(39.77 451.1) scale(1.1579 1)" font-size="21.3"><tspan dy="1" stroke-width="0.5">−</tspan><tspan dy="-1">1.15</tspan></text>
<text transform="translate(39.74 376.1) scale(1.1790 1)" font-size="21.3"><tspan dy="1" stroke-width="0.5">−</tspan><tspan dy="-1">1.10</tspan></text>
<text transform="translate(39.77 301.1) scale(1.1579 1)" font-size="21.3"><tspan dy="1" stroke-width="0.5">−</tspan><tspan dy="-1">1.05</tspan></text>
<text transform="translate(39.74 226.1) scale(1.1790 1)" font-size="21.3"><tspan dy="1" stroke-width="0.5">−</tspan><tspan dy="-1">1.00</tspan></text>
<text transform="translate(39.77 151.1) scale(1.1579 1)" font-size="21.3"><tspan dy="1" stroke-width="0.5">−</tspan><tspan dy="-1">0.95</tspan></text>
<text transform="translate(255.11 543.3) scale(1.0394 1)" font-size="21.3">GLON</text>
<text transform="translate(322.26 543.3) scale(1.1678 1)" font-size="21.3">[deg]</text>
<text transform="translate(23 336.55) rotate(-90) scale(0.9953 1)" font-size="21.3">GLAT</text>
<text transform="translate(23 276.44) rotate(-90) scale(1.1678 1)" font-size="21.3">[deg]</text>
<text transform="translate(655.75 514.1) scale(1.1737 1)" font-size="21.3"><tspan dy="1" stroke-width="0.5">−</tspan><tspan dy="-1">6.9</tspan></text>
<text transform="translate(724.61 514.1) scale(1.1669 1)" font-size="21.3"><tspan dy="1" stroke-width="0.5">−</tspan><tspan dy="-1">6.8</tspan></text>
<text transform="translate(794.46 514.1) scale(1.1602 1)" font-size="21.3"><tspan dy="1" stroke-width="0.5">−</tspan><tspan dy="-1">6.7</tspan></text>
<text transform="translate(864.36 514.1) scale(1.1669 1)" font-size="21.3"><tspan dy="1" stroke-width="0.5">−</tspan><tspan dy="-1">6.6</tspan></text>
<text transform="translate(933.21 514.1) scale(1.1669 1)" font-size="21.3"><tspan dy="1" stroke-width="0.5">−</tspan><tspan dy="-1">6.5</tspan></text>
<text transform="translate(1003.07 514.1) scale(1.1536 1)" font-size="21.3"><tspan dy="1" stroke-width="0.5">−</tspan><tspan dy="-1">6.4</tspan></text>
<text transform="translate(581.85 427.1) scale(1.1218 1)" font-size="21.3">1.7</text>
<text transform="translate(581.83 351.1) scale(1.1318 1)" font-size="21.3">1.8</text>
<text transform="translate(581.83 274.1) scale(1.1318 1)" font-size="21.3">1.9</text>
<text transform="translate(582.04 198.1) scale(1.1236 1)" font-size="21.3">2.0</text>
<text transform="translate(582.1 121.1) scale(1.0614 1)" font-size="21.3">2.1</text>
<text transform="translate(754.55 543.3) scale(1.0670 1)" font-size="21.3">pmRA</text>
<text transform="translate(821.29 543.3) scale(1.1447 1)" font-size="21.3">[mas/yr]</text>
<text transform="translate(566 355.16) rotate(-90) scale(1.0905 1)" font-size="21.3">pmDE</text>
<text transform="translate(566 287.41) rotate(-90) scale(1.1447 1)" font-size="21.3">[mas/yr]</text>
<text transform="translate(102.04 1025.1) scale(1.1245 1)" font-size="21.3">0.30</text>
<text transform="translate(214.64 1025.1) scale(1.1245 1)" font-size="21.3">0.35</text>
<text transform="translate(328.34 1025.1) scale(1.1245 1)" font-size="21.3">0.40</text>
<text transform="translate(440.94 1025.1) scale(1.1245 1)" font-size="21.3">0.45</text>
<text transform="translate(87.07 591.1) scale(1.0918 1)" font-size="21.3">6</text>
<text transform="translate(87.05 659.1) scale(1.1178 1)" font-size="21.3">8</text>
<text transform="translate(74.83 726.1) scale(1.1332 1)" font-size="21.3">10</text>
<text transform="translate(74.88 793.1) scale(1.1047 1)" font-size="21.3">12</text>
<text transform="translate(74.88 860.1) scale(1.1078 1)" font-size="21.3">14</text>
<text transform="translate(74.85 928.1) scale(1.1204 1)" font-size="21.3">16</text>
<text transform="translate(74.83 995.1) scale(1.1332 1)" font-size="21.3">18</text>
<text transform="translate(269.33 1055.3) scale(1.0554 1)" font-size="21.3">Plx</text>
<text transform="translate(305.26 1055.3) scale(1.1682 1)" font-size="21.3">[mas]</text>
<text transform="translate(58 831.5) rotate(-90) scale(0.9390 1)" font-size="21.3">G</text>
<text transform="translate(58 810.42) rotate(-90) scale(1.1527 1)" font-size="21.3">[mag]</text>
<text transform="translate(624.14 1025.1) scale(1.1236 1)" font-size="21.3">0.0</text>
<text transform="translate(706.14 1025.1) scale(1.1236 1)" font-size="21.3">0.5</text>
<text transform="translate(788.93 1025.1) scale(1.1318 1)" font-size="21.3">1.0</text>
<text transform="translate(871.93 1025.1) scale(1.1318 1)" font-size="21.3">1.5</text>
<text transform="translate(954.14 1025.1) scale(1.1236 1)" font-size="21.3">2.0</text>
<text transform="translate(601.07 591.1) scale(1.0918 1)" font-size="21.3">6</text>
<text transform="translate(601.05 659.1) scale(1.1178 1)" font-size="21.3">8</text>
<text transform="translate(588.83 726.1) scale(1.1332 1)" font-size="21.3">10</text>
<text transform="translate(588.88 793.1) scale(1.1047 1)" font-size="21.3">12</text>
<text transform="translate(588.88 860.1) scale(1.1078 1)" font-size="21.3">14</text>
<text transform="translate(588.85 928.1) scale(1.1204 1)" font-size="21.3">16</text>
<text transform="translate(588.83 995.1) scale(1.1332 1)" font-size="21.3">18</text>
<text transform="translate(766.35 1054.3) scale(1.0221 1)" font-size="21.3">BP-RP</text>
<text transform="translate(833.28 1054.3) scale(1.1527 1)" font-size="21.3">[mag]</text>
<text transform="translate(572 831.5) rotate(-90) scale(0.9390 1)" font-size="21.3">G</text>
<text transform="translate(572 810.42) rotate(-90) scale(1.1527 1)" font-size="21.3">[mag]</text>
<text transform="translate(1096.04 1007) scale(1.1236 1)" font-size="21.3">0.5</text>
<text transform="translate(1096.05 821.1) scale(1.1140 1)" font-size="21.3">0.6</text>
<text transform="translate(1096.05 635.1) scale(1.1140 1)" font-size="21.3">0.7</text>
<text transform="translate(1096.04 448.1) scale(1.1236 1)" font-size="21.3">0.8</text>
<text transform="translate(1096.04 262.1) scale(1.1236 1)" font-size="21.3">0.9</text>
<text transform="translate(1095.83 75.1) scale(1.1318 1)" font-size="21.3">1.0</text>
<text transform="translate(458.49 26.4) scale(1.0435 1)" font-size="24.2">UCC</text>
<text transform="translate(518.89 26.4) scale(1.1518 1)" font-size="24.2">(N=75)</text>
</g>
</svg></body></html>
